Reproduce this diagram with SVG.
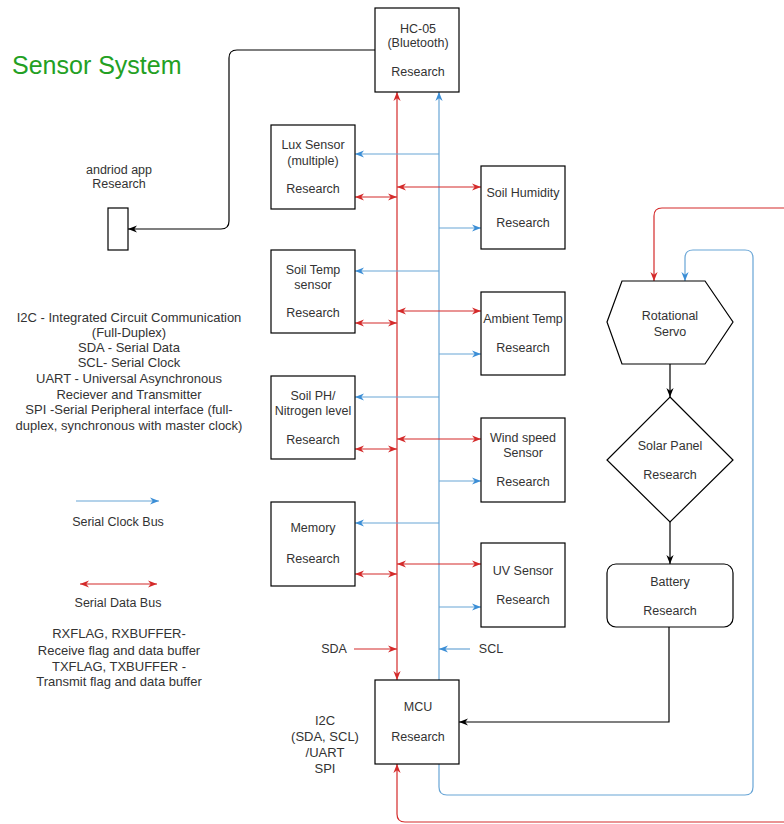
<svg xmlns="http://www.w3.org/2000/svg" width="784" height="824" viewBox="0 0 784 824">
<style>
text{font-family:"Liberation Sans",Arial,sans-serif;font-size:12.5px;fill:#333;text-anchor:middle}
.lg{font-size:13px}
.box{fill:#fff;stroke:#000;stroke-width:1.2}
.red{fill:none;stroke:#d42a2a;stroke-width:1.2}
.blue{fill:none;stroke:#68a5d6;stroke-width:1.2}
.blk{fill:none;stroke:#000;stroke-width:1.2}
.title{font-size:25px;fill:#23a023;text-anchor:start}
</style>
<defs>
<marker id="ar" viewBox="0 0 10 10" refX="10" refY="5" markerWidth="9" markerHeight="9" markerUnits="userSpaceOnUse" orient="auto-start-reverse"><path d="M0,1 L10,5 L0,9 L3,5 z" fill="#d42a2a"/></marker>
<marker id="ab" viewBox="0 0 10 10" refX="10" refY="5" markerWidth="9" markerHeight="9" markerUnits="userSpaceOnUse" orient="auto-start-reverse"><path d="M0,1 L10,5 L0,9 L3,5 z" fill="#3b8ed6"/></marker>
<marker id="ak" viewBox="0 0 10 10" refX="10" refY="5" markerWidth="9" markerHeight="9" markerUnits="userSpaceOnUse" orient="auto-start-reverse"><path d="M0,1 L10,5 L0,9 L3,5 z" fill="#000"/></marker>
</defs>
<rect width="784" height="824" fill="#fff"/>

<g id="connectors">
<path class="red" d="M397 680 L397 92" marker-start="url(#ar)" marker-end="url(#ar)"/>
<path class="blue" d="M439 680 L439 92" marker-end="url(#ab)"/>
<path class="blue" d="M439 764 L439 787 Q439 795 447 795 L745 795 Q753 795 753 787 L753 258 Q753 250 745 250 L693 250 Q685 250 685 258 L685 281" marker-end="url(#ab)"/>
<path class="red" d="M790 208 L662 208 Q654 208 654 216 L654 281" marker-end="url(#ar)"/>
<path class="red" d="M790 822 L405 822 Q397 822 397 814 L397 764" marker-end="url(#ar)"/>
<path class="red" d="M354 649 L397 649" marker-end="url(#ar)"/>
<path class="blue" d="M470 649 L439 649" marker-end="url(#ab)"/>
<path class="blk" d="M375 50 L237 50 Q229 50 229 58 L229 221 Q229 229 221 229 L128 229" marker-end="url(#ak)"/>
<path class="blk" d="M670 364 L670 397" marker-end="url(#ak)"/>
<path class="blk" d="M670 522 L670 564" marker-end="url(#ak)"/>
<path class="blk" d="M669 627 L669 722 L459 722" marker-end="url(#ak)"/>
<path class="blue" d="M439 154 L355 154" marker-end="url(#ab)"/>
<path class="red" d="M355 197 L397 197" marker-start="url(#ar)" marker-end="url(#ar)"/>
<path class="blue" d="M439 271 L355 271" marker-end="url(#ab)"/>
<path class="red" d="M355 323 L397 323" marker-start="url(#ar)" marker-end="url(#ar)"/>
<path class="blue" d="M439 397 L355 397" marker-end="url(#ab)"/>
<path class="red" d="M355 449 L397 449" marker-start="url(#ar)" marker-end="url(#ar)"/>
<path class="blue" d="M439 523 L355 523" marker-end="url(#ab)"/>
<path class="red" d="M355 574 L397 574" marker-start="url(#ar)" marker-end="url(#ar)"/>
<path class="red" d="M397 187 L481 187" marker-start="url(#ar)" marker-end="url(#ar)"/>
<path class="blue" d="M439 228 L481 228" marker-end="url(#ab)"/>
<path class="red" d="M397 311 L481 311" marker-start="url(#ar)" marker-end="url(#ar)"/>
<path class="blue" d="M439 354 L481 354" marker-end="url(#ab)"/>
<path class="red" d="M397 439 L481 439" marker-start="url(#ar)" marker-end="url(#ar)"/>
<path class="blue" d="M439 481 L481 481" marker-end="url(#ab)"/>
<path class="red" d="M397 564 L481 564" marker-start="url(#ar)" marker-end="url(#ar)"/>
<path class="blue" d="M439 607 L481 607" marker-end="url(#ab)"/>
<path class="blue" d="M76 501 L159 501" marker-end="url(#ab)"/>
<path class="red" d="M80 584 L157 584" marker-start="url(#ar)" marker-end="url(#ar)"/>
</g>

<g id="title"><text class="title" x="12" y="74">Sensor System</text></g>

<g id="hc05"><rect class="box" x="375" y="8" width="84" height="84"/>
<text x="418" y="33">HC-05</text><text x="418" y="47">(Bluetooth)</text><text x="418" y="76">Research</text></g>

<g id="android"><rect class="box" x="108" y="208" width="20" height="42"/>
<text x="119" y="174">andriod app</text><text x="119" y="188">Research</text></g>

<g id="lux"><rect class="box" x="271" y="125" width="84" height="84"/>
<text x="313" y="149">Lux Sensor</text><text x="313" y="165">(multiple)</text><text x="313" y="193">Research</text></g>

<g id="soiltemp"><rect class="box" x="271" y="250" width="84" height="83"/>
<text x="313" y="274">Soil Temp</text><text x="313" y="289">sensor</text><text x="313" y="317">Research</text></g>

<g id="soilph"><rect class="box" x="271" y="376" width="84" height="83"/>
<text x="313" y="400">Soil PH/</text><text x="313" y="415">Nitrogen level</text><text x="313" y="444">Research</text></g>

<g id="memory"><rect class="box" x="271" y="502" width="84" height="84"/>
<text x="313" y="532">Memory</text><text x="313" y="563">Research</text></g>

<g id="soilhum"><rect class="box" x="481" y="166" width="84" height="83"/>
<text x="523" y="197">Soil Humidity</text><text x="523" y="227">Research</text></g>

<g id="ambient"><rect class="box" x="481" y="292" width="84" height="83"/>
<text x="523" y="323">Ambient Temp</text><text x="523" y="352">Research</text></g>

<g id="wind"><rect class="box" x="481" y="418" width="84" height="84"/>
<text x="523" y="442">Wind speed</text><text x="523" y="457">Sensor</text><text x="523" y="486">Research</text></g>

<g id="uv"><rect class="box" x="481" y="543" width="84" height="84"/>
<text x="523" y="575">UV Sensor</text><text x="523" y="604">Research</text></g>

<g id="mcu"><rect class="box" x="375" y="680" width="84" height="84"/>
<text x="418" y="711">MCU</text><text x="418" y="741">Research</text></g>

<g id="servo"><polygon class="box" points="607,322 622,281 705,281 733,322 705,364 622,364"/>
<text x="670" y="320">Rotational</text><text x="670" y="336">Servo</text></g>

<g id="solar"><polygon class="box" points="670,397 733,460 670,522 607,460"/>
<text x="670" y="450">Solar Panel</text><text x="670" y="479">Research</text></g>

<g id="battery"><rect class="box" x="607" y="564" width="126" height="63" rx="9"/>
<text x="670" y="586">Battery</text><text x="670" y="615">Research</text></g>

<g id="labels">
<text x="334" y="653">SDA</text>
<text x="491" y="653">SCL</text>
<text class="lg" x="325" y="725">I2C</text>
<text class="lg" x="325" y="741">(SDA, SCL)</text>
<text class="lg" x="325" y="757">/UART</text>
<text class="lg" x="325" y="773">SPI</text>
<text class="lg" x="129" y="322">I2C - Integrated Circuit Communication</text>
<text class="lg" x="129" y="337">(Full-Duplex)</text>
<text class="lg" x="129" y="352">SDA - Serial Data</text>
<text class="lg" x="129" y="367">SCL- Serial Clock</text>
<text class="lg" x="129" y="383">UART - Universal Asynchronous</text>
<text class="lg" x="129" y="399">Reciever and Transmitter</text>
<text class="lg" x="129" y="414">SPI -Serial Peripheral interface (full-</text>
<text class="lg" x="129" y="430">duplex, synchronous with master clock)</text>
<text x="118" y="526">Serial Clock Bus</text>
<text x="118" y="607">Serial Data Bus</text>
<text class="lg" x="119" y="638">RXFLAG, RXBUFFER-</text>
<text class="lg" x="119" y="655">Receive flag and data buffer</text>
<text class="lg" x="119" y="671">TXFLAG, TXBUFFER -</text>
<text class="lg" x="119" y="686">Transmit flag and data buffer</text>
</g>
</svg>
